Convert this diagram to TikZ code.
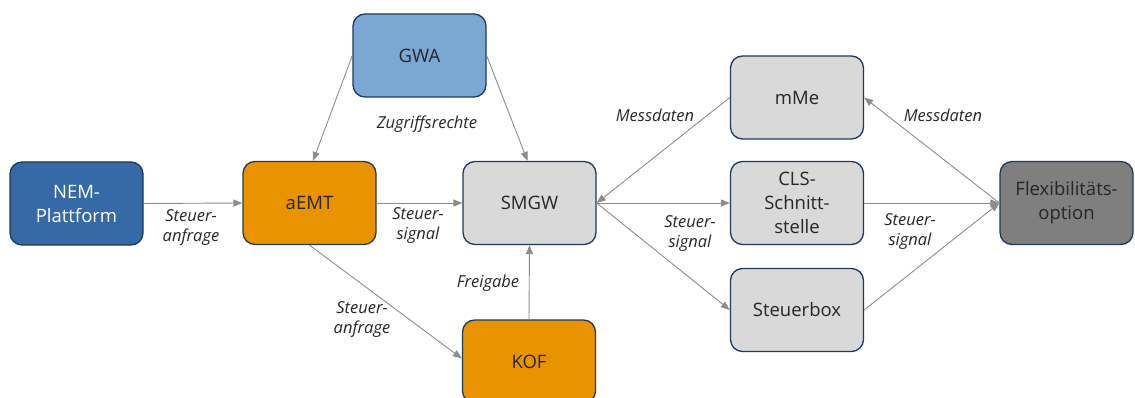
\documentclass[tikz,border=0pt]{standalone}
\usepackage{fontspec}
\setmainfont{Open Sans}
\usetikzlibrary{arrows.meta,calc}
\definecolor{edgecol}{HTML}{1F3A5A}
\definecolor{nemblue}{HTML}{356AA6}
\definecolor{gwablue}{HTML}{7BA7D4}
\definecolor{orangefill}{HTML}{EA9300}
\definecolor{greyfill}{HTML}{D9D9D9}
\definecolor{darkfill}{HTML}{7F7F7F}
\definecolor{conncol}{HTML}{8C8C8C}
\definecolor{txt}{HTML}{262626}
\begin{document}
\begin{tikzpicture}[x=1pt,y=-1pt,
  box/.style={draw=edgecol, line width=1.3pt, rounded corners=12pt,
    minimum width=133pt, minimum height=83pt, inner sep=0pt, align=center,
    font=\fontsize{18.5}{24}\selectfont, text=txt},
  conn/.style={draw=conncol, line width=0.9pt,
    -{Triangle[length=9pt,width=7pt,fill=conncol]}},
  lbl/.style={font=\fontsize{16.5}{20}\selectfont\itshape, text=txt, align=center}]
\useasboundingbox (0,0) rectangle (1135,398);

% boxes
\node[box, fill=nemblue, text=white] (nem) at (76.5,203.5) {NEM-\\Plattform};
\node[box, fill=orangefill] (aemt) at (309.5,203) {aEMT};
\node[box, fill=gwablue] (gwa) at (419.5,55.5) {GWA};
\node[box, fill=greyfill] (smgw) at (529.5,203) {SMGW};
\node[box, fill=orangefill] (kof) at (529,361.5) {KOF};
\node[box, fill=greyfill] (mme) at (797,97.5) {mMe};
\node[box, fill=greyfill] (cls) at (797,203) {CLS-\\Schnitt-\\stelle};
\node[box, fill=greyfill] (sbox) at (797,310) {Steuerbox};
\node[box, fill=darkfill] (flex) at (1066.5,203) {Flexibilitäts-\\option};

% connectors
\draw[conn] (nem.east) -- (aemt.west);
\draw[conn] (aemt.east) -- (smgw.west);
\draw[conn] (gwa.west) -- ($(aemt.north)+(3.5,0)$);
\draw[conn] (gwa.east) -- ($(smgw.north)+(-2,0)$);
\draw[conn] (aemt.south) -- ($(kof.west)+(0,-3)$);
\draw[conn] (kof.north) -- (smgw.south);
\draw[conn] (mme.west) -- (smgw.east);
\draw[conn] (smgw.east) -- (cls.west);
\draw[conn] (smgw.east) -- (sbox.west);
\draw[conn] (flex.west) -- (mme.east);
\draw[conn] (cls.east) -- (flex.west);
\draw[conn] (sbox.east) -- (flex.west);

% labels
\node[lbl] (l1) at (191,228) {Steuer-\\anfrage};
\node[lbl] (l2) at (418,226) {Steuer-\\signal};
\node[lbl] (l3) at (427,124) {Zugriffsrechte};
\node[lbl] (l4) at (362,320) {Steuer-\\anfrage};
\node[lbl] (l5) at (488,283) {Freigabe};
\node[lbl] (l6) at (655,115) {Messdaten};
\node[lbl] (l7) at (690,234) {Steuer-\\signal};
\node[lbl] (l8) at (943,115) {Messdaten};
\node[lbl] (l9) at (910,232) {Steuer-\\signal};
\end{tikzpicture}
\end{document}
